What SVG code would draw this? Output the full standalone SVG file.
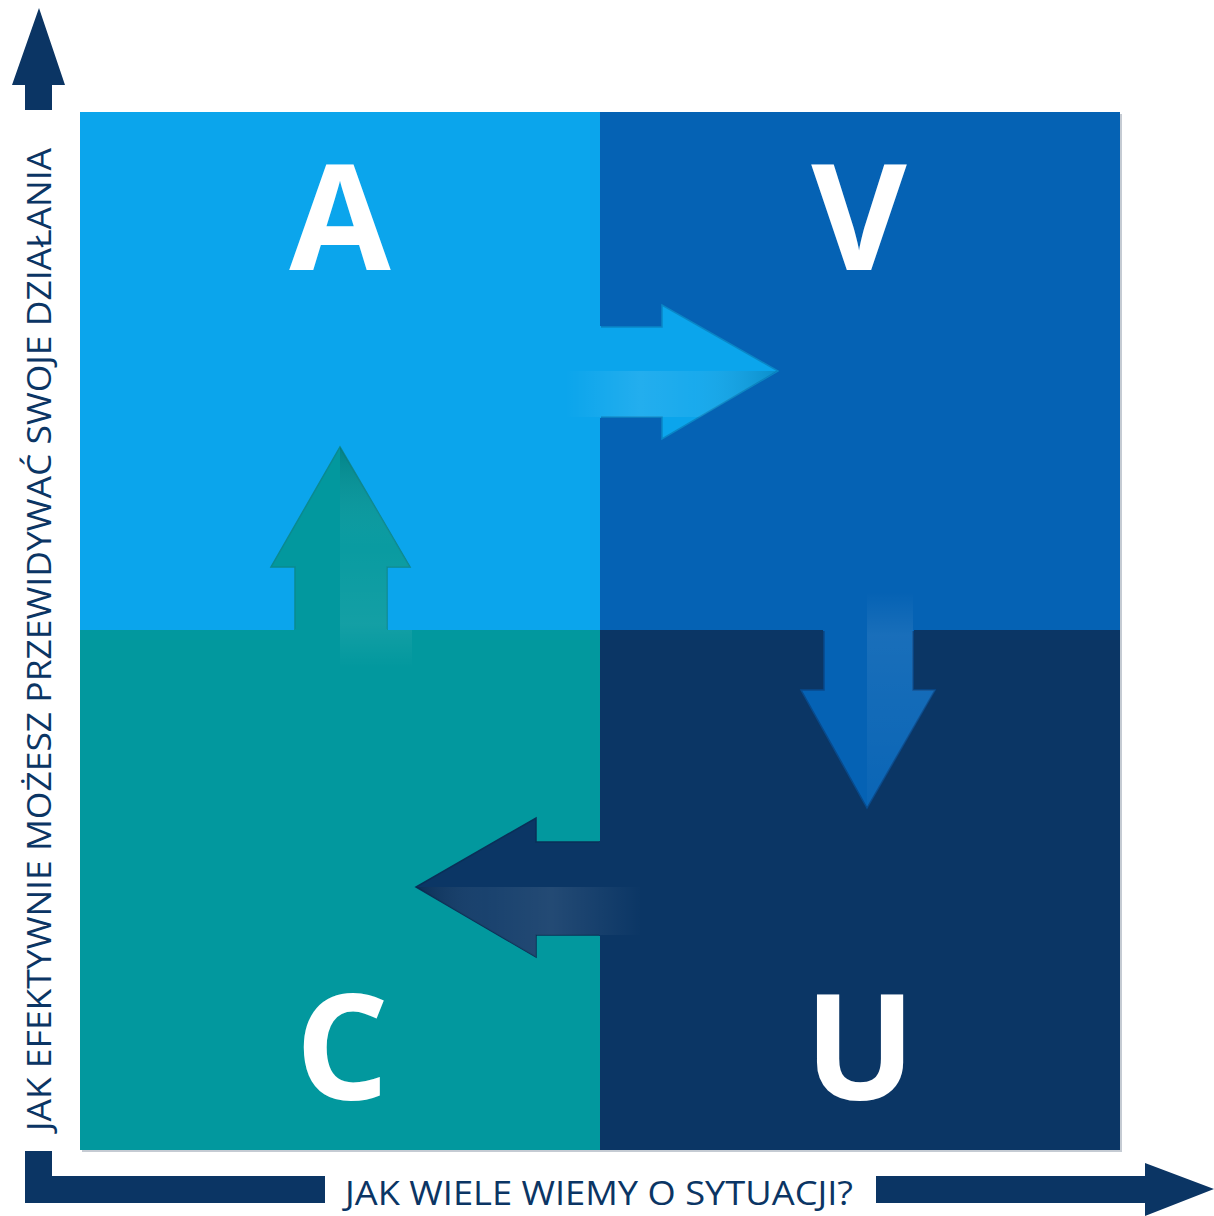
<svg xmlns="http://www.w3.org/2000/svg" width="1214" height="1216" viewBox="0 0 1214 1216">
<style>
.axis{fill:#0B3564}
.lbl{font-family:"Open Sans","Liberation Sans",sans-serif;font-size:32px;fill:#0B3564}
.big{font-family:"Open Sans","Liberation Sans",sans-serif;font-weight:700;font-size:147px;fill:#FFFFFF;text-anchor:middle}
</style>
<defs>
<linearGradient id="gR" x1="565" y1="0" x2="780" y2="0" gradientUnits="userSpaceOnUse">
<stop offset="0" stop-color="#FFFFFF" stop-opacity="0"/>
<stop offset="0.35" stop-color="#FFFFFF" stop-opacity="0.1"/>
<stop offset="0.6" stop-color="#FFFFFF" stop-opacity="0.06"/>
<stop offset="1" stop-color="#000000" stop-opacity="0.15"/>
</linearGradient>
<linearGradient id="gU" x1="0" y1="447" x2="0" y2="668" gradientUnits="userSpaceOnUse">
<stop offset="0" stop-color="#000000" stop-opacity="0.14"/>
<stop offset="0.45" stop-color="#FFFFFF" stop-opacity="0.03"/>
<stop offset="0.8" stop-color="#FFFFFF" stop-opacity="0.07"/>
<stop offset="1" stop-color="#FFFFFF" stop-opacity="0"/>
</linearGradient>
<linearGradient id="gD" x1="0" y1="592" x2="0" y2="808" gradientUnits="userSpaceOnUse">
<stop offset="0" stop-color="#FFFFFF" stop-opacity="0"/>
<stop offset="0.2" stop-color="#FFFFFF" stop-opacity="0.08"/>
<stop offset="0.6" stop-color="#FFFFFF" stop-opacity="0.05"/>
<stop offset="1" stop-color="#FFFFFF" stop-opacity="0.02"/>
</linearGradient>
<linearGradient id="gL" x1="416" y1="0" x2="642" y2="0" gradientUnits="userSpaceOnUse">
<stop offset="0" stop-color="#000000" stop-opacity="0.15"/>
<stop offset="0.3" stop-color="#FFFFFF" stop-opacity="0.06"/>
<stop offset="0.6" stop-color="#FFFFFF" stop-opacity="0.1"/>
<stop offset="1" stop-color="#FFFFFF" stop-opacity="0"/>
</linearGradient>
</defs>

<g id="axes">
<polygon class="axis" points="39,8 65,85 52,85 52,110 25,110 25,85 12,85"/>
<path class="axis" d="M25,1151 H52 V1176 H325 V1203 H25 Z"/>
<polygon class="axis" points="876,1176 1145,1176 1145,1163 1214,1189 1145,1216 1145,1203 876,1203"/>
<text class="lbl" x="345" y="1205" textLength="508" lengthAdjust="spacingAndGlyphs">JAK WIELE WIEMY O SYTUACJI?</text>
<text class="lbl" transform="translate(51,1131) rotate(-90)" x="0" y="0" textLength="983" lengthAdjust="spacingAndGlyphs">JAK EFEKTYWNIE MOŻESZ PRZEWIDYWAĆ SWOJE DZIAŁANIA</text>
</g>

<rect x="82" y="114" width="1040" height="1038" fill="#C5CBD3"/>

<g id="quadrant-A"><rect x="80" y="112" width="520" height="518" fill="#0BA5EC"/><text class="big" x="340" y="270">A</text></g>
<g id="quadrant-V"><rect x="600" y="112" width="520" height="518" fill="#0562B4"/><text class="big" x="859" y="270">V</text></g>
<g id="quadrant-C"><rect x="80" y="630" width="520" height="520" fill="#02989E"/><text class="big" x="342" y="1100">C</text></g>
<g id="quadrant-U"><rect x="600" y="630" width="520" height="520" fill="#0B3665"/><text class="big" x="860" y="1100">U</text></g>

<g id="connectors">
<g id="arrow-A-V">
<polygon points="600,327 662,327 662,305 778,371 662,439 662,417 600,417" fill="#0BA5EC" stroke="#0A86C6" stroke-width="1.5" stroke-linejoin="miter"/>
<rect x="590" y="326" width="11" height="92" fill="#0BA5EC"/>
<polygon points="565,371 777,371 700,417 565,417" fill="url(#gR)"/>
</g>
<g id="arrow-C-A">
<polygon points="340,447 410,567 387,567 387,630 295,630 295,567 271,567" fill="#02989E" stroke="#0A8A90" stroke-width="1.5"/>
<rect x="294" y="629" width="94" height="10" fill="#02989E"/>
<polygon points="340,447 410,567 387,567 387,630 412,630 412,668 340,668" fill="url(#gU)"/>
</g>
<g id="arrow-V-U">
<polygon points="824,630 913,630 913,690 935,690 867,808 801,690 824,690" fill="#0562B4" stroke="#084A8C" stroke-width="1.5"/>
<rect x="823" y="620" width="91" height="11" fill="#0562B4"/>
<polygon points="867,592 913,592 913,690 935,690 867,808" fill="url(#gD)"/>
</g>
<g id="arrow-U-C">
<polygon points="600,842 536,842 536,818 416,887 536,957 536,935 600,935" fill="#0B3665" stroke="#0A2F58" stroke-width="1.5"/>
<rect x="599" y="841" width="11" height="95" fill="#0B3665"/>
<polygon points="416,887 642,887 642,935 536,935 536,957" fill="url(#gL)"/>
</g>
</g>
</svg>
